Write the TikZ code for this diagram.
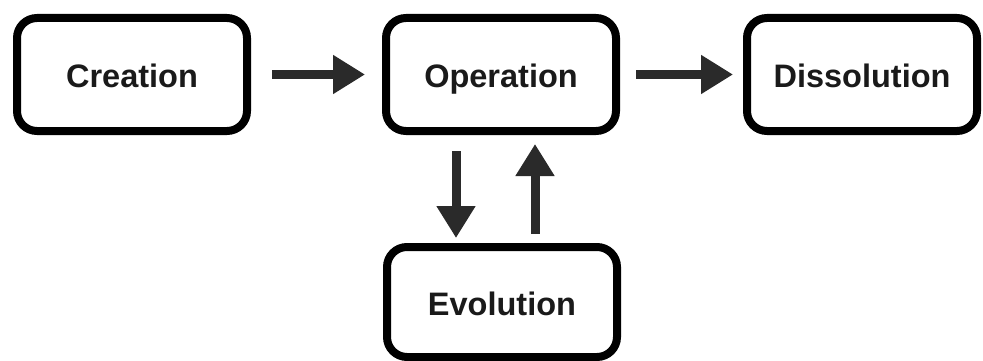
\documentclass[tikz,border=0pt]{standalone}
\usepackage{fontspec}
\setmainfont{Liberation Sans}
\usetikzlibrary{arrows.meta}
\definecolor{arrowgray}{HTML}{2A2A2A}
\definecolor{textblack}{HTML}{1A1A1A}
\tikzset{
  stage/.style={draw=black, line width=8pt, rounded corners=20pt, minimum width=230pt,
    minimum height=113pt, inner sep=0pt, fill=white, text=textblack,
    text height=28pt, text depth=1pt,
    font=\fontsize{32.5}{39}\selectfont\bfseries},
  flow/.style={draw=arrowgray, line width=9pt, -{Triangle[length=32pt,width=37pt]}, fill=arrowgray}
}
\begin{document}
\begin{tikzpicture}
\useasboundingbox (0pt,0pt) rectangle (983pt,-361pt);
\node[stage] (cre) at (132pt,-74.5pt) {Creation};
\node[stage] (op) at (501pt,-74.5pt) {Operation};
\node[stage] (dis) at (862pt,-74.5pt) {Dissolution};
\node[stage, minimum height=110pt] (evo) at (502pt,-302pt) {Evolution};
\draw[flow, shorten <=21pt, shorten >=17pt] (cre.east) -- (op.west);
\draw[flow, shorten <=16pt, shorten >=10pt] (op.east) -- (dis.west);
\draw[flow, shorten <=16pt, shorten >=5pt] ([xshift=-45pt]op.south) -- ([xshift=-45pt]op.south |- evo.north);
\draw[flow, shorten <=9pt, shorten >=9pt] ([xshift=34pt]op.south |- evo.north) -- ([xshift=34pt]op.south);
\end{tikzpicture}
\end{document}
